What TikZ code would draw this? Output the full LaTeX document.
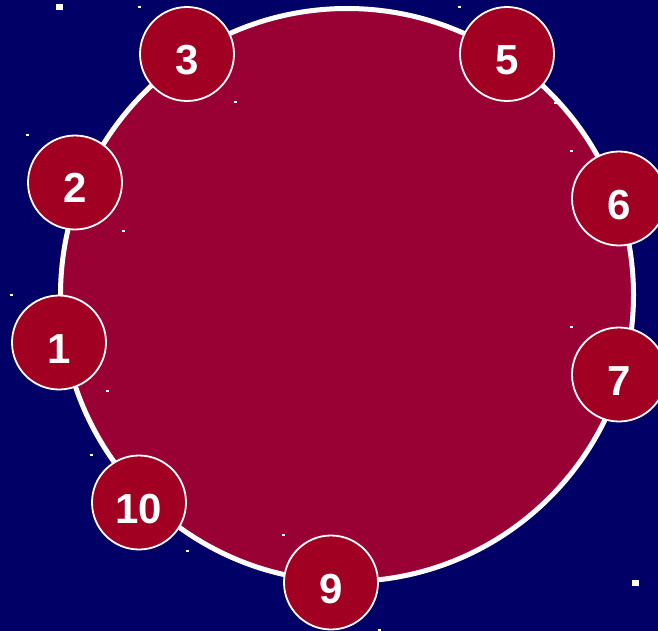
\documentclass[tikz,border=0pt]{standalone}
\usepackage{fontspec}
\setmainfont{Liberation Sans}
\definecolor{bgnavy}{RGB}{0,0,102}
\definecolor{bigred}{RGB}{153,0,51}
\definecolor{smallred}{RGB}{162,0,34}
\begin{document}
\begin{tikzpicture}[x=1pt,y=-1pt,
  numnode/.style={circle, draw=white, line width=1.8pt, fill=smallred, minimum size=94pt, inner sep=0pt,
    text=white, font=\fontsize{42}{42}\selectfont\bfseries, text height=41pt, text depth=0pt},
  star/.style={fill=white}]
\useasboundingbox (0,0) rectangle (658,631);
\fill[bgnavy] (0,0) rectangle (658,631);
\node[circle, draw=white, line width=5pt, fill=bigred, minimum size=573pt, inner sep=0pt] (ring) at (347,295) {};
% stars
\fill[star] (56,4) rectangle (63,10);
\fill[star] (138,6) rectangle (141,8);
\fill[star] (234,101) rectangle (237,103);
\fill[star] (458,6) rectangle (461,8);
\fill[star] (554,102) rectangle (557,104);
\fill[star] (570,150) rectangle (573,152);
\fill[star] (26,134) rectangle (29,136);
\fill[star] (122,230) rectangle (125,232);
\fill[star] (10,294) rectangle (13,296);
\fill[star] (106,390) rectangle (109,392);
\fill[star] (90,454) rectangle (93,456);
\fill[star] (186,550) rectangle (189,552);
\fill[star] (282,534) rectangle (285,536);
\fill[star] (378,629) rectangle (381,631);
\fill[star] (570,326) rectangle (573,328);
\fill[star] (632,580) rectangle (639,586);
% numbered circles
\node[numnode] (n3) at (187,54) {3};
\node[numnode] (n5) at (507,54) {5};
\node[numnode] (n2) at (75,182.5) {2};
\node[numnode] (n6) at (619,198.5) {6};
\node[numnode] (n1) at (59,342.5) {1};
\node[numnode] (n7) at (619,374.5) {7};
\node[numnode] (n10) at (139,502.5) {10};
\node[numnode] (n9) at (331,582.5) {9};
\end{tikzpicture}
\end{document}
